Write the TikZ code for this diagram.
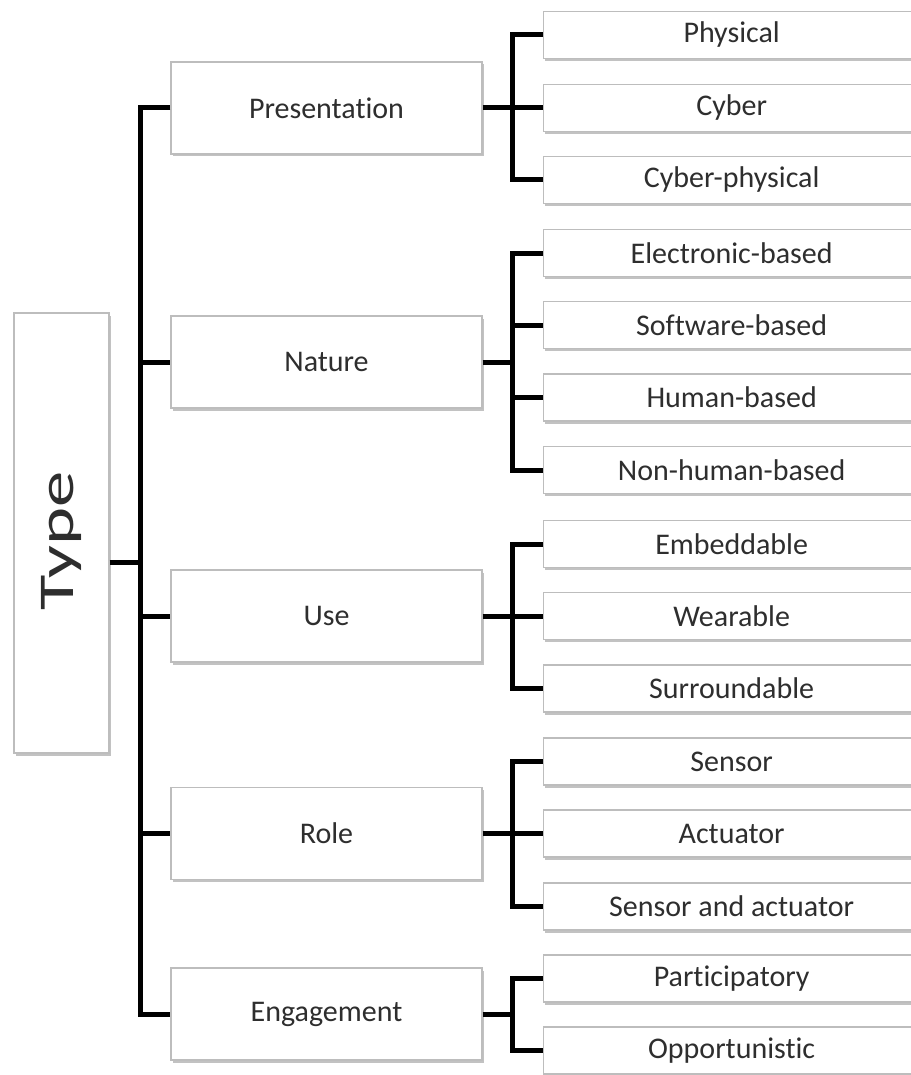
\documentclass[tikz,border=0pt]{standalone}
\usepackage{fontspec}
\setmainfont{Carlito}[Ligatures={NoCommon}]
\usetikzlibrary{shadows}
\definecolor{txt}{HTML}{2E2E2E}
\definecolor{edge}{HTML}{BDBDBD}
\begin{document}
\begin{tikzpicture}[x=1pt,y=-1pt,
  boxbase/.style={draw=edge, line width=1.3pt, fill=white, inner sep=0pt,
    text=txt, font=\fontsize{30}{36}\selectfont,
    drop shadow={shadow xshift=1.5pt, shadow yshift=-2.5pt, opacity=0.6, fill=gray!80}},
  mainbox/.style={boxbase, minimum width=311pt, minimum height=92pt},
  subbox/.style={boxbase, minimum width=376pt, minimum height=47pt, anchor=west},
  conn/.style={line width=5pt, draw=black, line join=miter}]
\useasboundingbox (0,0) rectangle (910,1075);

% root
\node[boxbase, minimum width=95pt, minimum height=440pt] (typebox) at (61.5,533) {};
\node[text=txt, font=\fontsize{50}{60}\selectfont, rotate=90, inner sep=0pt] (typelabel) at (61.5,541) {\scalebox{1.45}[1]{Type}};

% level 1
\node[mainbox] (pres) at (326.5,108) {Presentation};
\node[mainbox] (nat) at (326.5,362) {Nature};
\node[mainbox] (use) at (326.5,616) {Use};
\node[mainbox] (role) at (326.5,833.5) {Role};
\node[mainbox] (eng) at (326.5,1014) {Engagement};

% level 2
\node[subbox] (p1) at (543,35) {Physical};
\node[subbox] (p2) at (543,108) {Cyber};
\node[subbox] (p3) at (543,180) {Cyber-physical};
\node[subbox] (n1) at (543,253) {Electronic-based};
\node[subbox] (n2) at (543,325) {Software-based};
\node[subbox] (n3) at (543,397.5) {Human-based};
\node[subbox] (n4) at (543,470) {Non-human-based};
\node[subbox] (u1) at (543,544) {Embeddable};
\node[subbox] (u2) at (543,616) {Wearable};
\node[subbox] (u3) at (543,688.5) {Surroundable};
\node[subbox] (r1) at (543,761.5) {Sensor};
\node[subbox] (r2) at (543,833.5) {Actuator};
\node[subbox] (r3) at (543,906.5) {Sensor and actuator};
\node[subbox] (e1) at (543,978.5) {Participatory};
\node[subbox] (e2) at (543,1050.5) {Opportunistic};

% connectors: root
\coordinate (tj) at (140,562);
\coordinate (bx) at (512,0);
\draw[conn] (tj -| typebox.east) -- (tj);
\draw[conn] (pres.west) -| (tj) |- (eng.west);
\draw[conn] (nat.west -| tj) -- (nat.west);
\draw[conn] (use.west -| tj) -- (use.west);
\draw[conn] (role.west -| tj) -- (role.west);

% presentation
\draw[conn] (p1.west) -| (pres.east -| bx) |- (p3.west);
\draw[conn] (pres.east) -- (p2.west);
% nature
\draw[conn] (n1.west) -| (nat.east -| bx) |- (n4.west);
\draw[conn] (nat.east) -- (nat.east -| bx);
\draw[conn] (n2.west -| bx) -- (n2.west);
\draw[conn] (n3.west -| bx) -- (n3.west);
% use
\draw[conn] (u1.west) -| (use.east -| bx) |- (u3.west);
\draw[conn] (use.east) -- (u2.west);
% role
\draw[conn] (r1.west) -| (role.east -| bx) |- (r3.west);
\draw[conn] (role.east) -- (r2.west);
% engagement
\draw[conn] (e1.west) -| (eng.east -| bx) |- (e2.west);
\draw[conn] (eng.east) -- (eng.east -| bx);
\end{tikzpicture}
\end{document}
